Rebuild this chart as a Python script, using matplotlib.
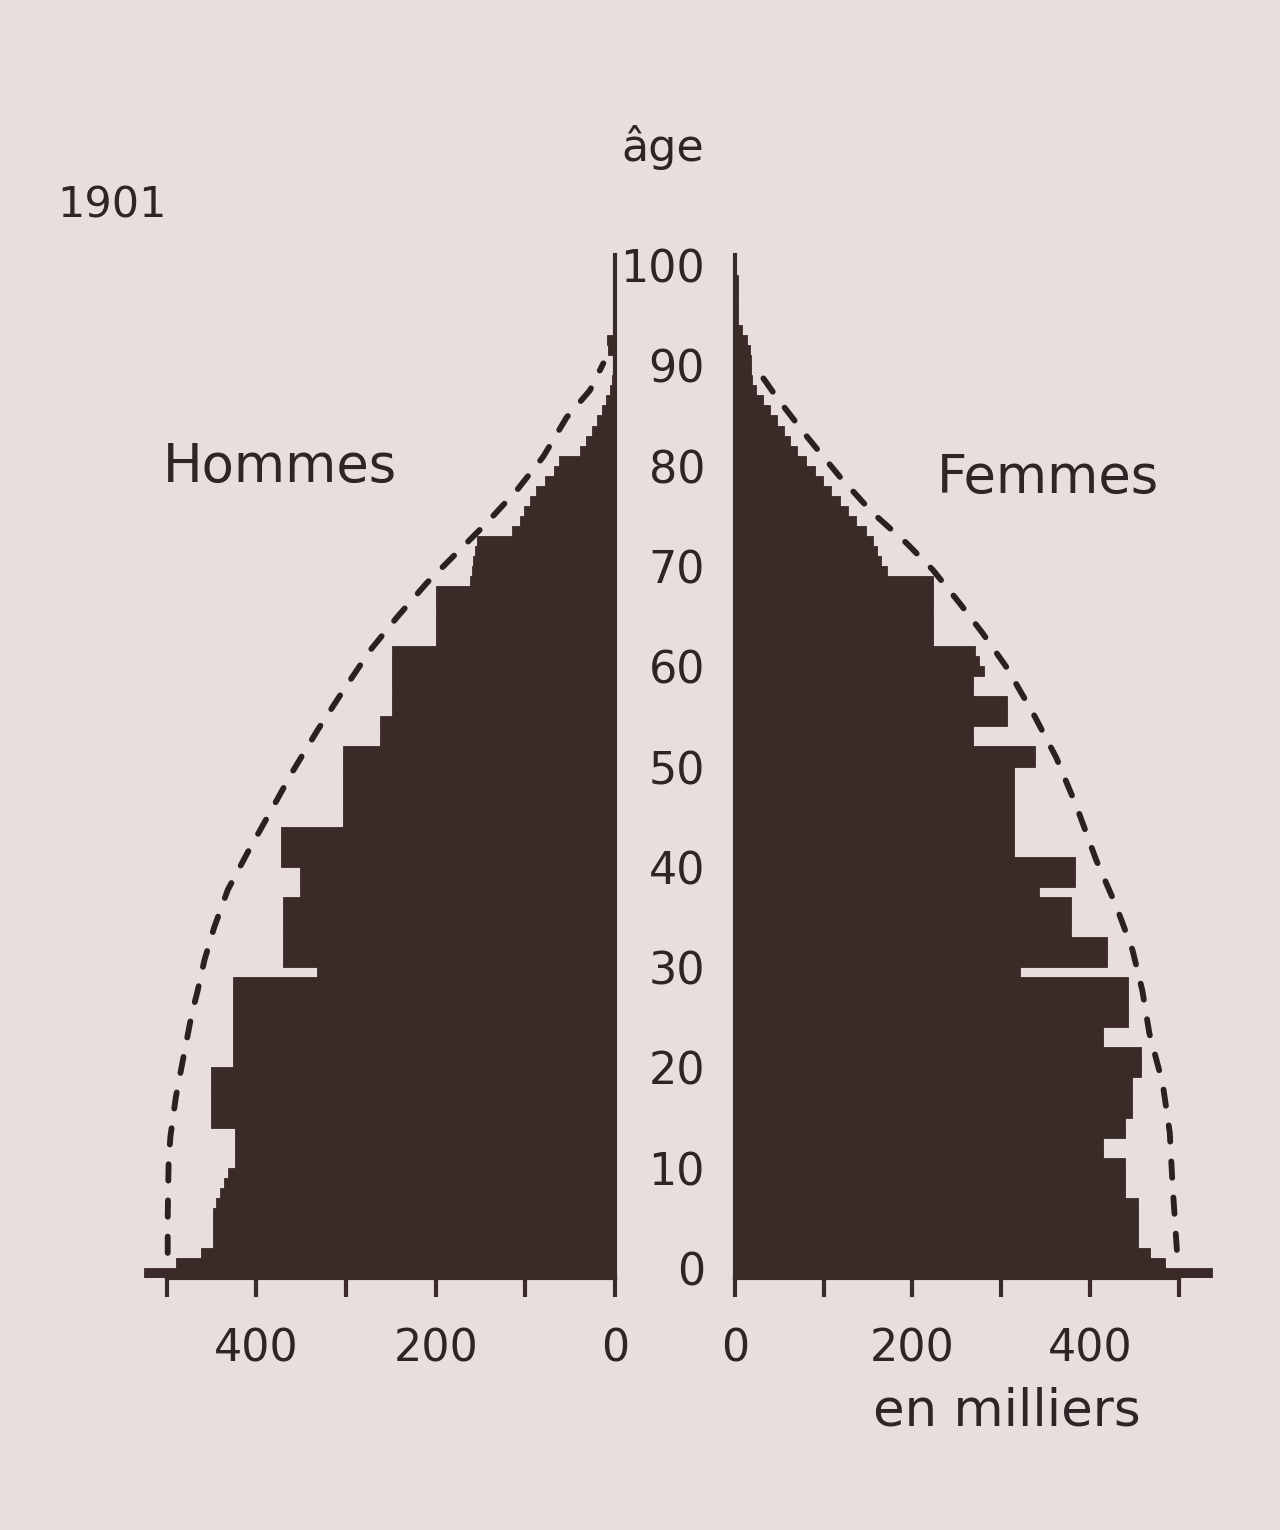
import matplotlib.pyplot as plt
from matplotlib.transforms import blended_transform_factory

# population 1901 by single year of age (thousands)
ages = list(range(0, 101))

hommes = ([525, 490, 462] + [449] * 4 + [445, 441, 436, 432] + [424] * 4 + [451] * 6
          + [426] * 9 + [332] + [370] * 7 + [351] * 3 + [373] * 4 + [303] * 8
          + [262] * 3 + [249] * 7 + [200] * 6 + [162, 160, 158, 156, 154]
          + [115, 106, 101, 95, 88, 78, 68, 62]
          + [39, 32, 26, 20, 15, 10, 6, 3, 2, 2, 8, 9, 2, 1, 1, 1, 1, 1, 0])

femmes = ([538, 485, 468] + [454] * 5 + [439] * 4 + [415] * 2 + [439] * 2 + [447] * 4
          + [458] * 3 + [415] * 2 + [443] * 5 + [321] + [419] * 3 + [379] * 4 + [343]
          + [383] * 3 + [315] * 9 + [338] * 2 + [268] * 2 + [306] * 3 + [268] * 2
          + [281, 275, 270] + [223] * 7
          + [171, 165, 160, 155, 148, 136, 127, 118, 108, 99, 90, 80, 70, 62, 55, 47,
             39, 31, 24, 19, 18, 18, 17, 13, 8, 3, 3, 3, 3, 3, 0])

# dashed reference curves (age, thousands)
ref_h_age = [2, 5.6, 11, 13.6, 17.5, 22.2, 25.9, 28.0, 31.2, 34.5, 38.2, 41.9, 45.9,
             50.1, 54.1, 58.1, 62.1, 65.4, 68.8, 71.4, 74.8, 78.1, 81.4, 85.3, 88.0, 90.7]
ref_h_val = [499, 499, 498, 496, 490, 480, 472, 466, 458, 447, 432, 410, 385,
             359, 332, 303, 273, 243, 210, 181, 143, 109, 80, 54, 28, 13]
ref_f_age = [2.3, 9.0, 14.0, 18.9, 23.9, 28.2, 32.2, 36.5, 41.2, 46.5, 51.4, 55.8,
             60.4, 63.8, 66.8, 70.1, 72.8, 75.8, 79.4, 83.4, 87.3, 88.7, 90.7]
ref_f_val = [498, 493, 490, 482, 467, 459, 448, 430, 407, 385, 362, 336,
             306, 279, 253, 223, 193, 155, 118, 81, 47, 36, 20]

age_ticks = list(range(0, 101, 10))
x_ticks = [0, 100, 200, 300, 400, 500]
x_labels = ['0', '', '200', '', '400', '']

bg = '#e7dedd'
ink = '#3a2b28'
txt = '#2e2626'

W, H = 1280, 1530
fig = plt.figure(figsize=(W / 100, H / 100), dpi=100, facecolor=bg)

bottom = (H - 1278) / H
height = 1023 / H
axL = fig.add_axes([122 / W, bottom, 493 / W, height])
axR = fig.add_axes([735 / W, bottom, 488 / W, height])

for ax, vals, ra, rv in [(axL, hommes, ref_h_age, ref_h_val),
                         (axR, femmes, ref_f_age, ref_f_val)]:
    ax.set_facecolor('none')
    ax.barh(ages, vals, height=1.0, color=ink, edgecolor=ink, linewidth=0.6)
    ax.plot(rv, ra, color='#2a2221', lw=4.2, linestyle=(0, (2.8, 3.4)),
            dash_capstyle='round', clip_on=False)
    ax.set_xlim(0, 550)
    ax.set_ylim(-0.5, 101.5)
    ax.set_yticks([])
    ax.set_xticks(x_ticks)
    ax.set_xticklabels(x_labels)
    ax.tick_params(axis='x', direction='out', length=14, width=3, color=ink,
                   labelsize=32, labelcolor=txt, pad=22)
    ax.spines['top'].set_visible(False)
    ax.spines['bottom'].set_linewidth(3)
    ax.spines['bottom'].set_color(ink)
    ax.spines['bottom'].set_bounds(0, 500)

axL.invert_xaxis()
axL.spines['left'].set_visible(False)
axL.spines['right'].set_linewidth(3)
axL.spines['right'].set_color(ink)
axR.spines['right'].set_visible(False)
axR.spines['left'].set_linewidth(3)
axR.spines['left'].set_color(ink)

# age labels in the central gap
tr = blended_transform_factory(fig.transFigure, axL.transData)
for a in age_ticks:
    fig.text(705 / W, a, str(a), transform=tr, ha='right', va='center',
             fontsize=32, color=txt)

fig.text(663 / W, 1 - 148 / H, 'âge', ha='center', va='center', fontsize=32, color=txt)
fig.text(57 / W, 1 - 205 / H, '1901', ha='left', va='center', fontsize=31, color=txt)
fig.text(163 / W, 1 - 467 / H, 'Hommes', ha='left', va='center', fontsize=38, color=txt)
fig.text(937 / W, 1 - 478 / H, 'Femmes', ha='left', va='center', fontsize=38, color=txt)
fig.text(1007 / W, 1 - 1412 / H, 'en milliers', ha='center', va='center',
         fontsize=37, color=txt)

fig.savefig('out.png', dpi=100, facecolor=bg)
